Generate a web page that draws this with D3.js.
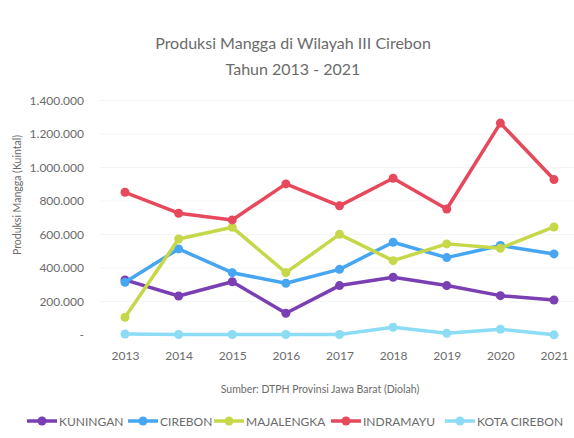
<!DOCTYPE html>
<html>
<head>
<meta charset="utf-8">
<script src="https://cdn.jsdelivr.net/npm/d3@7"></script>
<style>
  body { margin: 0; background: #fff; }
  svg text { font-family: Lato, "Open Sans", sans-serif; fill: #6b6b6b; }
</style>
</head>
<body>
<svg id="chart" width="574" height="438"></svg>
<script>
// data (kuintal)
const years = ["2013", "2014", "2015", "2016", "2017", "2018", "2019", "2020", "2021"];
const kuningan    = [329000, 233000, 318000, 130000, 295000, 345000, 295000, 235000, 209000];
const cirebon     = [315000, 514000, 372000, 309000, 392000, 554000, 462000, 534000, 484000];
const majalengka  = [106000, 573000, 643000, 372000, 601000, 444000, 544000, 518000, 645000];
const indramayu   = [852000, 727000, 687000, 902000, 771000, 936000, 752000, 1265000, 928000];
const kotaCirebon = [6000, 3000, 3000, 3000, 3000, 46000, 10000, 34000, 1000];
const yTicks = [0, 200000, 400000, 600000, 800000, 1000000, 1200000, 1400000];

const series = [
  {name: "KUNINGAN", values: kuningan, color: "#7a3fb2"},
  {name: "CIREBON", values: cirebon, color: "#46a6f2"},
  {name: "MAJALENGKA", values: majalengka, color: "#c6d84a"},
  {name: "INDRAMAYU", values: indramayu, color: "#e6495c"},
  {name: "KOTA CIREBON", values: kotaCirebon, color: "#8cdcf5"}
];

const svg = d3.select("#chart");

const x = d3.scalePoint().domain(years).range([125, 554]);
const y = d3.scaleLinear().domain([0, 1400000]).range([335, 100.5]);

const fmt = v => v === 0 ? "-" : d3.format(",")(v).replace(/,/g, ".");

// faint gridlines
svg.append("g")
    .selectAll("line")
    .data(yTicks.slice(1))
    .join("line")
    .attr("x1", 100).attr("x2", 575)
    .attr("y1", d => y(d)).attr("y2", d => y(d))
    .attr("stroke", "#f4f4f4")
    .attr("stroke-width", 1);

// y axis labels
const yAxis = svg.append("g")
    .attr("transform", "translate(84,0)")
    .call(d3.axisLeft(y).tickValues(yTicks).tickFormat(fmt).tickSize(0).tickPadding(0));
yAxis.select(".domain").remove();
yAxis.selectAll("text").style("font-size", "12px").attr("fill", "#6b6b6b");

// x axis labels
const xAxis = svg.append("g")
    .attr("transform", "translate(0,351)")
    .call(d3.axisBottom(x).tickSize(0).tickPadding(0));
xAxis.select(".domain").remove();
xAxis.selectAll("text").style("font-size", "12px").attr("fill", "#6b6b6b");

// title
svg.append("text")
    .attr("x", 293).attr("y", 49)
    .attr("text-anchor", "middle")
    .style("font-size", "16px")
    .text("Produksi Mangga di Wilayah III Cirebon");
svg.append("text")
    .attr("x", 293).attr("y", 75)
    .attr("text-anchor", "middle")
    .style("font-size", "16px")
    .text("Tahun 2013 - 2021");

// y axis title
svg.append("text")
    .attr("transform", "translate(21,195) rotate(-90)")
    .attr("text-anchor", "middle")
    .style("font-size", "10.5px")
    .text("Produksi Mangga (Kuintal)");

// source note
svg.append("text")
    .attr("x", 320).attr("y", 393)
    .attr("text-anchor", "middle")
    .style("font-size", "10.5px")
    .text("Sumber: DTPH Provinsi Jawa Barat (Diolah)");

// lines
const line = d3.line()
    .x((d, i) => x(years[i]))
    .y(d => y(d));

const groups = svg.append("g")
    .selectAll("g")
    .data(series)
    .join("g");

groups.append("path")
    .attr("d", d => line(d.values))
    .attr("fill", "none")
    .attr("stroke", d => d.color)
    .attr("stroke-width", 3.5)
    .attr("stroke-linejoin", "round");

groups.selectAll("circle")
    .data(d => d.values.map((v, i) => ({v, i, color: d.color})))
    .join("circle")
    .attr("cx", d => x(years[d.i]))
    .attr("cy", d => y(d.v))
    .attr("r", 4.5)
    .attr("fill", d => d.color);

// legend
const legendX = [27, 128, 214, 331, 445];
const legend = svg.append("g")
    .selectAll("g")
    .data(series)
    .join("g")
    .attr("transform", (d, i) => `translate(${legendX[i]},421)`);

legend.append("line")
    .attr("x1", 0).attr("x2", 30)
    .attr("stroke", d => d.color)
    .attr("stroke-width", 3.5);
legend.append("circle")
    .attr("cx", 15).attr("r", 4.5)
    .attr("fill", d => d.color);
legend.append("text")
    .attr("x", 32).attr("y", 4.5)
    .style("font-size", "12px")
    .text(d => d.name);
</script>
</body>
</html>
